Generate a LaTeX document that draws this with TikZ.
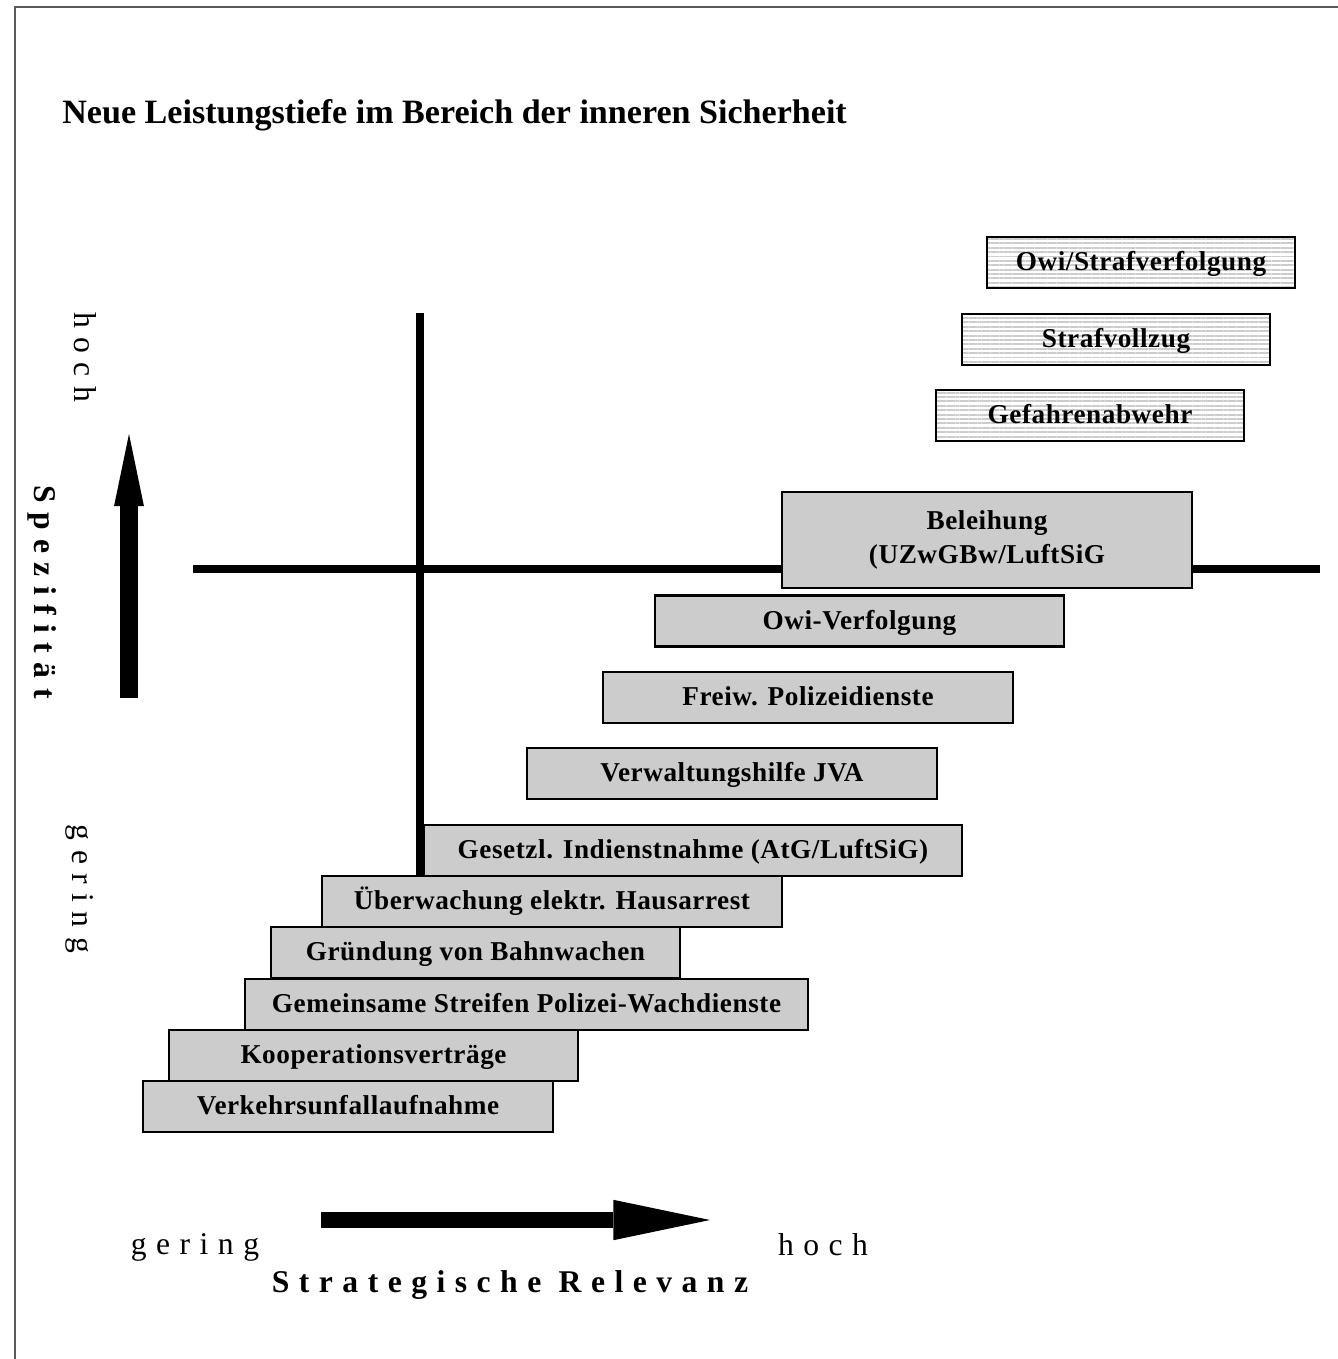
\documentclass[tikz,border=0pt]{standalone}
\usepackage{fontspec}
\setmainfont{Liberation Serif}
\newfontfamily\sperr{Liberation Serif}[LetterSpace=30]
\newfontfamily\kasten{Liberation Serif}[LetterSpace=2]
\usetikzlibrary{arrows.meta,patterns.meta}

\begin{document}
\begin{tikzpicture}[x=0.02cm,y=-0.02cm,
    block/.style={draw=black,line width=1.2pt,fill=gray!40,inner sep=0pt,
      minimum height=1.02cm,font=\kasten\bfseries\fontsize{15.5}{19}\selectfont},
    stufe/.style={block,text height=1.1em,text depth=0.14em},
    gestreift/.style={stufe,pattern={Lines[angle=0,distance=2.5pt,line width=1.1pt]},
      pattern color=gray!40},
    achse/.style={line width=5pt},
    achsenwort/.style={font=\sperr\fontsize{18}{20}\selectfont},
  ]
\useasboundingbox (0,0) rectangle (1338,1359);
% Rahmen
\draw[gray!70!black,line width=1.4pt] (15,1359) -- (15,7) -- (1338,7);

\node[anchor=west,inner sep=0pt,font=\bfseries\fontsize{19.4}{22}\selectfont] (titel) at (62,115)
  {Neue Leistungstiefe im Bereich der inneren Sicherheit};

% Achsenkreuz
\coordinate (vOben) at (420,313);
\coordinate (vUnten) at (420,876);
\coordinate (hLinks) at (193,569);
\coordinate (hRechts) at (1320,569);
\draw[achse] (vOben) -- (vUnten);
\draw[achse] (hLinks) -- (hRechts);

% hoch spezifisch
\node[gestreift,minimum width=6.16cm] (owistraf) at (1141,262.5) {Owi/Strafverfolgung};
\node[gestreift,minimum width=6.16cm] (vollzug) at (1116,339.5) {Strafvollzug};
\node[gestreift,minimum width=6.16cm] (gefahr) at (1090,415.5) {Gefahrenabwehr};

\node[block,minimum width=8.2cm,minimum height=1.92cm,align=center] (beleihung) at (987,540)
  {Beleihung\\(UZwGBw/LuftSiG};
\node[stufe,minimum width=8.18cm] (owiverf) at (859.5,621) {Owi-Verfolgung};
\node[stufe,minimum width=8.2cm] (freiw) at (808,697.5) {Freiw. Polizeidienste};
\node[stufe,minimum width=8.2cm] (verwalt) at (732,773.5) {Verwaltungshilfe JVA};
\node[stufe,minimum width=10.76cm] (gesetzl) at (693,850.5) {Gesetzl. Indienstnahme (AtG/LuftSiG)};
\node[stufe,minimum width=9.2cm] (ueberw) at (552,901.5) {Überwachung elektr. Hausarrest};
\node[stufe,minimum width=8.18cm] (bahn) at (475.5,952.5) {Gründung von Bahnwachen};
\node[stufe,minimum width=11.26cm] (streifen) at (526.5,1004.5) {Gemeinsame Streifen Polizei-Wachdienste};
\node[stufe,minimum width=8.18cm] (koop) at (373.5,1055.5) {Kooperationsverträge};
\node[stufe,minimum width=8.2cm] (verkehr) at (348,1106.5) {Verkehrsunfallaufnahme};

% Spezifitaet
\coordinate (spezFuss) at (129,698);
\coordinate (spezSpitze) at (129,434);
\draw[line width=9.8pt,-{Triangle[length=41pt,width=17pt,line width=0pt]}] (spezFuss) -- (spezSpitze);
\node[achsenwort,rotate=-90] (hochY) at (85,357) {hoch};
\node[achsenwort,rotate=-90,font=\sperr\bfseries\fontsize{18}{20}\selectfont] (spez) at (42,592) {Spezifität};
\node[achsenwort,rotate=-90] (geringY) at (80,889) {gering};

% strategische Relevanz
\coordinate (relFuss) at (321,1220);
\coordinate (relSpitze) at (710,1220);
\draw[line width=9.5pt,-{Triangle[length=55pt,width=23pt,line width=0pt]}] (relFuss) -- (relSpitze);
\node[achsenwort] (geringX) at (195,1247) {gering};
\node[achsenwort] (hochX) at (823,1245) {hoch};
\node[achsenwort,font=\sperr\bfseries\fontsize{18}{20}\selectfont] (relevanz) at (510,1285) {Strategische Relevanz};

\end{tikzpicture}
\end{document}
